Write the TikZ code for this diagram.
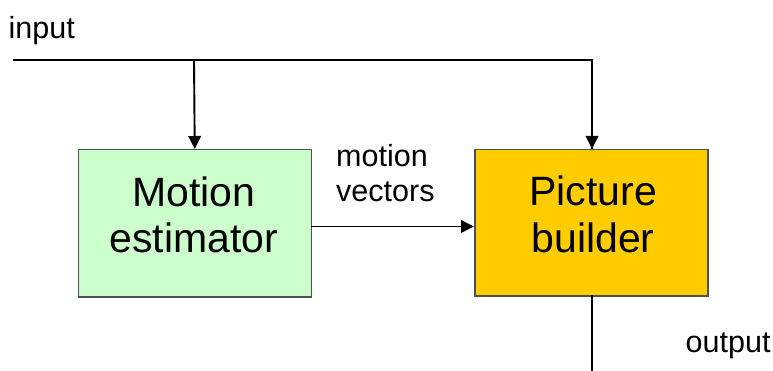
\documentclass[tikz,border=0pt]{standalone}
\usepackage{fontspec}
\setmainfont{Liberation Sans}
\usetikzlibrary{arrows.meta}
\definecolor{estfill}{HTML}{CCFFCC}
\definecolor{buildfill}{HTML}{FFCC00}
\definecolor{boxline}{HTML}{505050}
\tikzset{
  block/.style={draw=boxline, line width=1.5pt, inner sep=0pt, anchor=north west},
  bigtext/.style={font=\fontsize{41}{47}\selectfont, inner sep=0pt, anchor=base},
  smalltext/.style={font=\fontsize{30.5}{35}\selectfont, inner sep=0pt, anchor=base west},
  wire/.style={line width=1.9pt, black},
  flow/.style={wire, -{Triangle[length=13pt,width=12.5pt]}},
}
\begin{document}
\begin{tikzpicture}[x=1pt,y=-1pt]
  \useasboundingbox (0,0) rectangle (773,371);

  % processing blocks
  \node[block, fill=estfill, minimum width=233pt, minimum height=147pt] (est) at (77.5,149) {};
  \node[block, fill=buildfill, minimum width=233pt, minimum height=146pt] (pb) at (474,149) {};

  \node[bigtext] (estA) at (194,206.5) {Motion};
  \node[bigtext] (estB) at (194,253) {estimator};
  \node[bigtext] (pbA) at (593,205.5) {Picture};
  \node[bigtext] (pbB) at (593,252.5) {builder};

  % input bus and signal paths
  \coordinate (inStart) at (13,60);
  \coordinate (tapEst) at (194,60);
  \coordinate (tapPb) at (592,60);
  \coordinate (pbTop) at (592,149);
  \coordinate (pbBot) at (592,295);
  \coordinate (outEnd) at (592,375);
  \coordinate (mvStart) at (310.5,226.5);
  \coordinate (mvEnd) at (474,226.5);

  \draw[wire] (inStart) -- (tapPb) -- (pbTop);
  \draw[flow] (tapEst) -- (est.north);
  \draw[flow] (tapPb) -- (pbTop);
  \draw[flow] (mvStart) -- (mvEnd);
  \draw[wire] (pbBot) -- (outEnd);

  % labels
  \node[smalltext] (inlbl) at (8.5,38.3) {input};
  \node[smalltext] (mvA) at (336,166.7) {motion};
  \node[smalltext] (mvB) at (336,201.5) {vectors};
  \node[smalltext] (outlbl) at (685.5,352) {output};
\end{tikzpicture}
\end{document}
